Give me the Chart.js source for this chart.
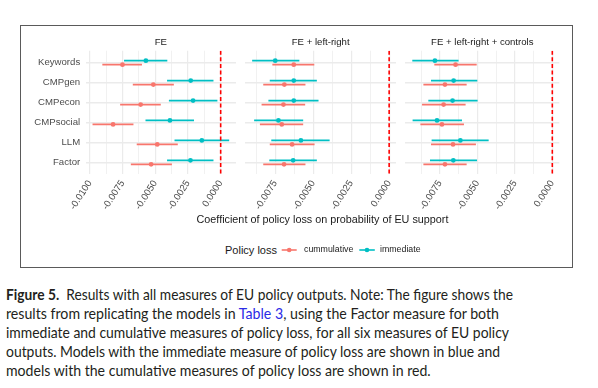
<!DOCTYPE html>
<html>
<head>
<meta charset="utf-8">
<script src="https://cdn.jsdelivr.net/npm/chart.js@4.4.1/dist/chart.umd.min.js"></script>
<style>
html,body{margin:0;padding:0;background:#fff;}
#page{position:relative;width:598px;height:388px;overflow:hidden;background:#fff;}
#frame{position:absolute;left:20px;top:25px;width:553px;height:243px;border:1px solid #5a5a5a;box-sizing:border-box;}
canvas{position:absolute;}
.leg{position:absolute;font-family:'Liberation Sans',Arial,sans-serif;white-space:nowrap;line-height:1;}
.cap{position:absolute;left:6px;font-family:Lato,sans-serif;font-size:15px;color:#231f20;white-space:nowrap;line-height:19px;transform-origin:0 0;}
.cap b{font-weight:bold;}
.cap .lnk{color:#2b2be6;}
</style>
</head>
<body>
<div id="page">
  <div id="frame"></div>
  <canvas id="c1" width="240" height="202" style="left:0px;top:30px;width:240px;height:202px"></canvas>
  <canvas id="c2" width="160" height="202" style="left:240px;top:30px;width:160px;height:202px"></canvas>
  <canvas id="c3" width="165" height="202" style="left:400px;top:30px;width:165px;height:202px"></canvas>

  <div class="leg" id="xtitle" style="left:0;width:645px;text-align:center;top:214px;font-size:10.8px;color:#1a1a1a"></div>

  <div class="leg" style="left:225px;top:245px;font-size:11px;color:#1a1a1a">Policy loss</div>
  <svg style="position:absolute;left:0;top:240px" width="598" height="20">
    <line x1="281.7" y1="10" x2="296.7" y2="10" stroke="#F8766D" stroke-width="1.6"/>
    <circle cx="289.2" cy="10" r="2.3" fill="#F8766D"/>
    <line x1="359.3" y1="10" x2="374.8" y2="10" stroke="#00BFC4" stroke-width="1.6"/>
    <circle cx="367" cy="10" r="2.3" fill="#00BFC4"/>
  </svg>
  <div class="leg" style="left:304px;top:245.3px;font-size:8.8px;color:#1a1a1a">cummulative</div>
  <div class="leg" style="left:380px;top:245.3px;font-size:8.8px;color:#1a1a1a">immediate</div>

  <div class="cap" data-w="507" style="top:284.7px"><span><b>Figure 5.</b>&nbsp; Results with all measures of EU policy outputs. Note: The figure shows the</span></div>
  <div class="cap" data-w="493" style="top:303.7px"><span>results from replicating the models in <span class="lnk">Table 3</span>, using the Factor measure for both</span></div>
  <div class="cap" data-w="503" style="top:322.7px"><span>immediate and cumulative measures of policy loss, for all six measures of EU policy</span></div>
  <div class="cap" data-w="494" style="top:341.7px"><span>outputs. Models with the immediate measure of policy loss are shown in blue and</span></div>
  <div class="cap" data-w="424.7" style="top:360.7px"><span>models with the cumulative measures of policy loss are shown in red.</span></div>
</div>
<script>
// ---------------- data ----------------
const categories = ['Keywords', 'CMPgen', 'CMPecon', 'CMPsocial', 'LLM', 'Factor'];
const panelTitles = ['FE', 'FE + left-right', 'FE + left-right + controls'];
const seriesNames = ['cummulative', 'immediate'];
const xAxisTitle = 'Coefficient of policy loss on probability of EU support';
const vlineAt = [0];

const ticksFE  = [-0.01, -0.0075, -0.005, -0.0025, 0];
const ticksLR  = [-0.0075, -0.005, -0.0025, 0];
const ticksLRC = [-0.0075, -0.005, -0.0025, 0];

// FE
const feImmEst = [-0.00572, -0.00229, -0.00211, -0.00388, -0.00144, -0.00231];
const feImmLo  = [-0.00739, -0.00410, -0.00396, -0.00575, -0.00353, -0.00410];
const feImmHi  = [-0.00408, -0.00055, -0.00025, -0.00204,  0.00065, -0.00055];
const feCumEst = [-0.00751, -0.00515, -0.00612, -0.00823, -0.00485, -0.00532];
const feCumLo  = [-0.00905, -0.00672, -0.00769, -0.00980, -0.00642, -0.00687];
const feCumHi  = [-0.00602, -0.00358, -0.00458, -0.00667, -0.00328, -0.00373];
// FE + left-right
const lrImmEst = [-0.00750, -0.00628, -0.00628, -0.00729, -0.00581, -0.00632];
const lrImmLo  = [-0.00902, -0.00786, -0.00795, -0.00889, -0.00776, -0.00789];
const lrImmHi  = [-0.00591, -0.00476, -0.00465, -0.00566, -0.00392, -0.00476];
const lrCumEst = [-0.00628, -0.00690, -0.00696, -0.00707, -0.00639, -0.00692];
const lrCumLo  = [-0.00769, -0.00829, -0.00840, -0.00851, -0.00786, -0.00829];
const lrCumHi  = [-0.00493, -0.00551, -0.00553, -0.00566, -0.00491, -0.00551];
// FE + left-right + controls
const lrcImmEst = [-0.00784, -0.00659, -0.00666, -0.00770, -0.00614, -0.00661];
const lrcImmLo  = [-0.00935, -0.00810, -0.00828, -0.00933, -0.00806, -0.00817];
const lrcImmHi  = [-0.00626, -0.00501, -0.00499, -0.00603, -0.00425, -0.00503];
const lrcCumEst = [-0.00646, -0.00717, -0.00726, -0.00737, -0.00663, -0.00717];
const lrcCumLo  = [-0.00788, -0.00861, -0.00870, -0.00881, -0.00810, -0.00861];
const lrcCumHi  = [-0.00505, -0.00572, -0.00579, -0.00590, -0.00510, -0.00572];

// ---------------- style ----------------
const COL_CUM = '#F8766D';
const COL_IMM = '#00BFC4';
const FONT = "'Liberation Sans', Arial, sans-serif";
const DODGE = 0.1;

document.getElementById('xtitle').textContent = xAxisTitle;

const panels = [
  {title: panelTitles[0], ticks: ticksFE,
   imm: [feImmEst, feImmLo, feImmHi], cum: [feCumEst, feCumLo, feCumHi]},
  {title: panelTitles[1], ticks: ticksLR,
   imm: [lrImmEst, lrImmLo, lrImmHi], cum: [lrCumEst, lrCumLo, lrCumHi]},
  {title: panelTitles[2], ticks: ticksLRC,
   imm: [lrcImmEst, lrcImmLo, lrcImmHi], cum: [lrcCumEst, lrcCumLo, lrcCumHi]}
];

const layouts = [
  {id: 'c1', yWidth: 85.7, padL: 0,   padR: 0.3, showY: true},
  {id: 'c2', yWidth: 0,    padL: 5.3, padR: 0.7, showY: false},
  {id: 'c3', yWidth: 0,    padL: 5.3, padR: 5.7, showY: false}
];

function pts(est, off) { return est.map((v, i) => ({x: v, y: i + off})); }
function bars(lo, hi, off) {
  const out = [];
  lo.forEach((v, i) => { out.push({x: v, y: i + off}, {x: hi[i], y: i + off}, {x: null, y: null}); });
  return out;
}

function buildChart(p, L) {
  const all = [].concat(p.imm[1], p.imm[2], p.cum[1], p.cum[2], vlineAt);
  const lo = Math.min.apply(null, all), hi = Math.max.apply(null, all);
  const pad = (hi - lo) * 0.05;
  const xmin = lo - pad, xmax = hi + pad;
  const step = p.ticks[1] - p.ticks[0];
  const grid = [];
  p.ticks.forEach(t => grid.push({value: t, major: true}));
  for (let i = -1; i < p.ticks.length; i++) {
    const m = p.ticks[0] + (i + 0.5) * step;
    if (m >= xmin && m <= xmax) grid.push({value: m, major: false});
  }
  grid.sort((a, b) => a.value - b.value);

  const ymin = -0.6, ymax = categories.length - 0.4;

  return new Chart(document.getElementById(L.id), {
    type: 'scatter',
    data: {
      datasets: [
        {type: 'line', label: 'zero', data: [{x: vlineAt[0], y: ymin}, {x: vlineAt[0], y: ymax}],
         borderColor: '#FF0000', borderWidth: 1.6, borderDash: [4, 2.6], pointRadius: 0, fill: false},
        {label: seriesNames[1], data: pts(p.imm[0], -DODGE), backgroundColor: COL_IMM,
         borderWidth: 0, pointRadius: 2.4},
        {label: seriesNames[0], data: pts(p.cum[0], DODGE), backgroundColor: COL_CUM,
         borderWidth: 0, pointRadius: 2.4},
        {type: 'line', label: seriesNames[1] + ' ci', data: bars(p.imm[1], p.imm[2], -DODGE),
         borderColor: COL_IMM, borderWidth: 1.8, pointRadius: 0, spanGaps: false, fill: false},
        {type: 'line', label: seriesNames[0] + ' ci', data: bars(p.cum[1], p.cum[2], DODGE),
         borderColor: COL_CUM, borderWidth: 1.8, pointRadius: 0, spanGaps: false, fill: false}
      ]
    },
    options: {
      responsive: false, animation: false, events: [],
      layout: {padding: {left: L.padL, right: L.padR, top: 0, bottom: 0}},
      plugins: {
        legend: {display: false}, tooltip: {enabled: false},
        title: {display: true, text: p.title, fullSize: false, color: '#1A1A1A',
                font: {family: FONT, size: 9.6, weight: 'normal', lineHeight: 1.2},
                padding: {top: 6.7, bottom: 2.48}}
      },
      scales: {
        x: {
          type: 'linear', min: xmin, max: xmax,
          afterBuildTicks: s => { s.ticks = grid.map(g => ({value: g.value, major: g.major})); },
          afterFit: s => { s.height = 57.7; s.paddingLeft = 0; s.paddingRight = 0; },
          ticks: {autoSkip: false, minRotation: 57, maxRotation: 57, padding: 4, color: '#4D4D4D',
                  font: {family: FONT, size: 9.6},
                  callback: function (v, i, t) { return t[i].major ? v.toFixed(4) : ''; }},
          grid: {color: '#EBEBEB', drawTicks: false,
                 lineWidth: c => (c.tick && c.tick.major) ? 1.2 : 0.7},
          border: {display: false},
          title: {display: false}
        },
        y: {
          type: 'linear', min: ymin, max: ymax, reverse: true,
          afterBuildTicks: s => { s.ticks = categories.map((c, i) => ({value: i})); },
          afterFit: s => { s.width = L.yWidth; s.paddingTop = 0; s.paddingBottom = 0; },
          ticks: {display: L.showY, padding: 5.5, color: '#4D4D4D', font: {family: FONT, size: 9.6},
                  callback: v => categories[v]},
          grid: {color: '#EBEBEB', lineWidth: 1.4, drawTicks: false},
          border: {display: false}
        }
      }
    }
  });
}

panels.forEach((p, i) => buildChart(p, layouts[i]));

function fitCaption() {
  document.querySelectorAll('.cap').forEach(d => {
    d.style.transform = '';
    const w = d.firstElementChild.getBoundingClientRect().width;
    const target = parseFloat(d.getAttribute('data-w'));
    d.style.transform = 'scaleX(' + (target / w) + ')';
  });
}
fitCaption();
if (document.fonts && document.fonts.ready) document.fonts.ready.then(fitCaption);
</script>
</body>
</html>
